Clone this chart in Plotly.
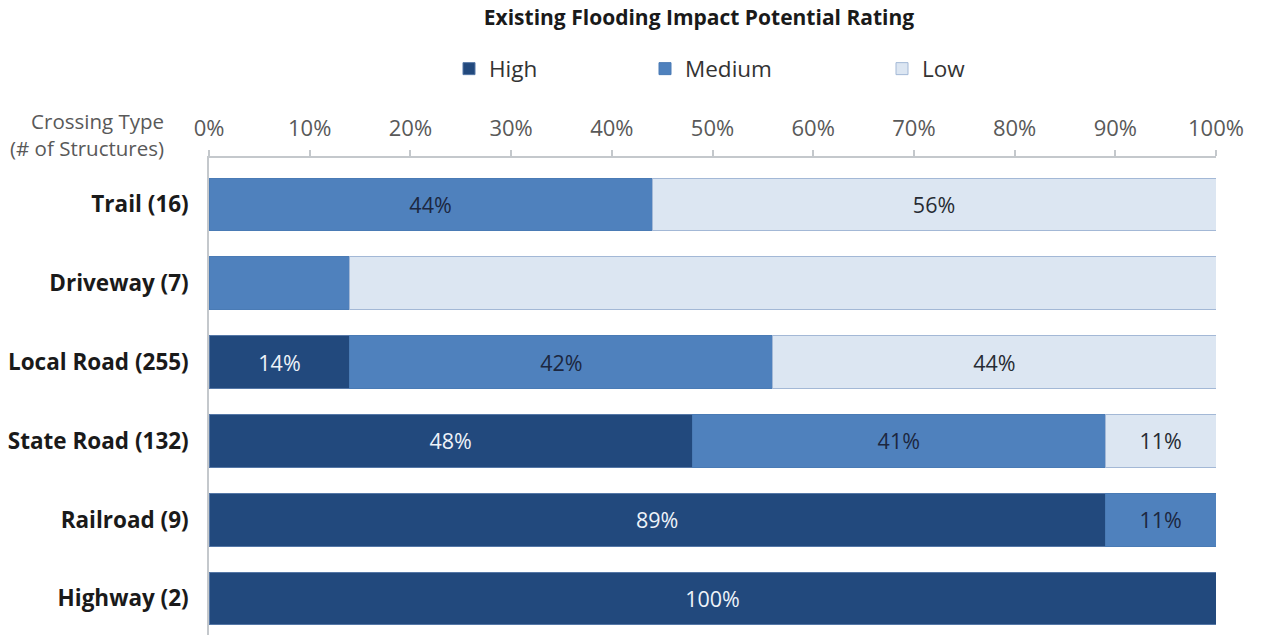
import plotly.graph_objects as go

# Crossing types (top to bottom) and share of structures per flooding rating (%)
categories = ["Trail (16)", "Driveway (7)", "Local Road (255)",
              "State Road (132)", "Railroad (9)", "Highway (2)"]
high = [0, 0, 14, 48, 89, 100]
medium = [44, 14, 42, 41, 11, 0]
low = [56, 86, 44, 11, 0, 0]
# rows whose segments carry a percentage label
labelled = [True, False, True, True, True, True]
tick_values = [0, 10, 20, 30, 40, 50, 60, 70, 80, 90, 100]
tick_labels = ["0%", "10%", "20%", "30%", "40%", "50%",
               "60%", "70%", "80%", "90%", "100%"]

FONT = "Open Sans"
series = [
    ("High", high, "#22497d", "#5577a6", "#eef3f9", "legend", 449),
    ("Medium", medium, "#4f81bd", "#4a7bb5", "#1c2740", "legend2", 645),
    ("Low", low, "#dce6f2", "#a3b8d6", "#262b33", "legend3", 882),
]

fig = go.Figure()
for name, vals, fill, edge, txt, leg, _ in series:
    labels = [f"{v:.0f}%" if (v > 0 and show) else "" for v, show in zip(vals, labelled)]
    fig.add_trace(go.Bar(
        name=name, y=categories, x=vals, orientation="h",
        marker=dict(color=fill, line=dict(color=edge, width=1)),
        text=labels, textposition="inside", insidetextanchor="middle",
        textangle=0, constraintext="none",
        textfont=dict(family=FONT, size=21.5, color=txt),
        legend=leg, showlegend=True, hoverinfo="x+y+name",
    ))

legend_common = dict(orientation="h", yref="container", y=1 - 69 / 635,
                     yanchor="middle", xref="container", xanchor="left",
                     font=dict(family=FONT, size=22.5, color="#333333"),
                     bgcolor="rgba(0,0,0,0)")
legends = {("legend" if i == 0 else f"legend{i + 1}"): dict(x=s[6] / 1261, **legend_common)
           for i, s in enumerate(series)}

fig.update_layout(
    width=1261, height=635,
    margin=dict(l=209, r=45, t=158, b=0),
    barmode="stack", bargap=0.33, showlegend=True,
    plot_bgcolor="white", paper_bgcolor="white",
    font=dict(family=FONT, size=22, color="#595959"),
    title=dict(text="Existing Flooding Impact Potential Rating",
               font=dict(family=FONT, size=21, color="#1a1a1a", weight="bold"),
               xref="container", x=699 / 1261, xanchor="center",
               yref="container", y=1 - 18 / 635, yanchor="middle"),
    xaxis=dict(side="top", range=[0, 100], tickvals=tick_values,
               ticktext=tick_labels, showgrid=False, zeroline=False,
               showline=True, linecolor="#c4c8cc", linewidth=1.5,
               ticks="outside", ticklen=6, tickcolor="#c4c8cc", tickwidth=1.5,
               ticklabelstandoff=5,
               tickfont=dict(family=FONT, size=22, color="#595959")),
    yaxis=dict(categoryorder="array", categoryarray=categories,
               range=[5.463, -0.59], showgrid=False, zeroline=False,
               showline=True, linecolor="#c4c8cc", linewidth=1.5,
               ticks="", ticklabelstandoff=14,
               tickfont=dict(family=FONT, size=22.5, color="#1a1a1a", weight="bold")),
    annotations=[dict(text="Crossing Type<br>(# of Structures)",
                      xref="paper", yref="paper",
                      x=(166 - 209) / 1007, y=1 + 24 / 477,
                      xanchor="right", yanchor="middle", align="right",
                      showarrow=False,
                      font=dict(family=FONT, size=20.5, color="#595959"))],
    **legends,
)

fig.write_html("out.html")
